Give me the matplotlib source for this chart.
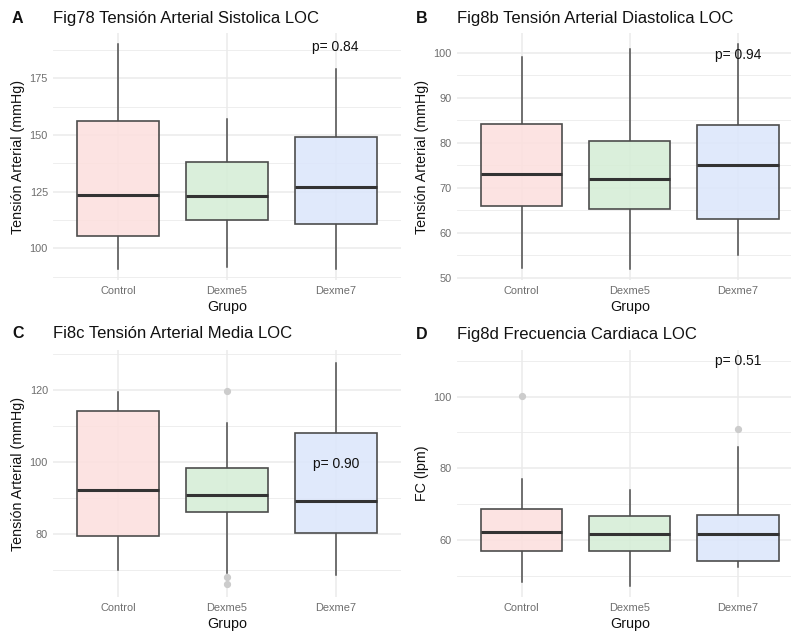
import matplotlib
matplotlib.use("Agg")
import matplotlib.pyplot as plt

plt.rcParams['font.family'] = ['Liberation Sans', 'DejaVu Sans']

groups = ["Control", "Dexme5", "Dexme7"]
fill_colors = ["#FCE0DE", "#D5EDD6", "#DCE6FB"]

# Panel A: systolic pressure
sys_whislo = [91.0, 91.8, 91.0]
sys_q1 = [105.6, 112.3, 110.7]
sys_med = [123.6, 122.9, 127.0]
sys_q3 = [156.2, 138.0, 149.3]
sys_whishi = [190.0, 157.1, 178.9]
sys_fliers = [[], [], []]

# Panel B: diastolic pressure
dia_whislo = [52.1, 52.0, 55.0]
dia_q1 = [66.0, 65.3, 63.0]
dia_med = [73.0, 72.0, 75.0]
dia_q3 = [84.2, 80.4, 83.9]
dia_whishi = [99.0, 100.8, 101.9]
dia_fliers = [[], [], []]

# Panel C: mean arterial pressure
mean_whislo = [69.8, 69.0, 68.4]
mean_q1 = [79.4, 86.1, 80.2]
mean_med = [92.1, 90.8, 89.1]
mean_q3 = [114.1, 98.2, 107.9]
mean_whishi = [119.3, 110.9, 127.6]
mean_fliers = [[], [119.7, 67.9, 66.1], []]

# Panel D: heart rate
hr_whislo = [48.3, 47.2, 52.3]
hr_q1 = [56.8, 56.8, 54.0]
hr_med = [62.2, 61.6, 61.6]
hr_q3 = [68.6, 66.7, 67.0]
hr_whishi = [77.0, 74.0, 86.0]
hr_fliers = [[100.1], [], [91.0]]

p_values = ["p= 0.84", "p= 0.94", "p= 0.90", "p= 0.51"]
p_y = [189.0, 99.6, 99.5, 109.8]

panel_letters = ["A", "B", "C", "D"]
titles = [
    "Fig78 Tensión Arterial Sistolica LOC",
    "Fig8b Tensión Arterial Diastolica LOC",
    "Fi8c Tensión Arterial Media LOC",
    "Fig8d Frecuencia Cardiaca LOC",
]
ylabels = ["Tensión Arterial (mmHg)", "Tensión Arterial (mmHg)",
           "Tensión Arterial (mmHg)", "FC (lpm)"]
xlabel = "Grupo"

ylims = [(86.0, 195.0), (49.5, 104.4), (62.4, 131.1), (44.0, 113.0)]
major_ticks = [[100, 125, 150, 175], [50, 60, 70, 80, 90, 100],
               [80, 100, 120], [60, 80, 100]]
minor_ticks = [[87.5, 112.5, 137.5, 162.5, 187.5], [55, 65, 75, 85, 95],
               [70, 90, 110, 130], [50, 70, 90, 110]]

panels = [
    (sys_whislo, sys_q1, sys_med, sys_q3, sys_whishi, sys_fliers),
    (dia_whislo, dia_q1, dia_med, dia_q3, dia_whishi, dia_fliers),
    (mean_whislo, mean_q1, mean_med, mean_q3, mean_whishi, mean_fliers),
    (hr_whislo, hr_q1, hr_med, hr_q3, hr_whishi, hr_fliers),
]

W, H = 791, 631
fig = plt.figure(figsize=(W / 100, H / 100), dpi=100)

# axes rectangles in pixels: left, top, right, bottom
rects = [(53, 33, 401, 280), (456.7, 33, 803, 280),
         (53, 350, 401, 597), (456.7, 350, 803, 597)]
label_x = [12, 416, 12, 416]
title_base = [22.7, 22.7, 338.5, 339.3]

grid_col = "#EBEBEB"

for i, (l, t, r, b) in enumerate(rects):
    ax = fig.add_axes([l / W, 1 - b / H, (r - l) / W, (b - t) / H])
    whislo, q1, med, q3, whishi, fliers = panels[i]
    stats = []
    for k in range(3):
        stats.append(dict(med=med[k], q1=q1[k], q3=q3[k], whislo=whislo[k],
                          whishi=whishi[k], fliers=fliers[k], label=groups[k]))
    bp = ax.bxp(stats, positions=[1, 2, 3], widths=0.75, showcaps=False,
                patch_artist=True, zorder=3,
                boxprops=dict(edgecolor="#4D4D4D", linewidth=1.2),
                whiskerprops=dict(color="#4D4D4D", linewidth=1.1),
                medianprops=dict(color="#333333", linewidth=2.2),
                flierprops=dict(marker="o", markersize=4.2, markerfacecolor="#CCCCCC",
                                markeredgecolor="#CCCCCC", linestyle="none"))
    for patch, c in zip(bp["boxes"], fill_colors):
        patch.set_facecolor(matplotlib.colors.to_rgba(c, 0.88))
    for wk in bp["whiskers"]:
        wk.set_zorder(2.5)

    ax.set_xlim(0.4, 3.6)
    ax.set_ylim(*ylims[i])
    ax.set_yticks(major_ticks[i])
    ax.set_yticks(minor_ticks[i], minor=True)
    ax.set_xticks([1, 2, 3])
    ax.set_xticklabels(groups)
    for s in ax.spines.values():
        s.set_visible(False)
    ax.tick_params(axis="both", which="both", length=0)
    ax.tick_params(axis="x", pad=4.5, labelsize=7.9, labelcolor="#6E6E6E")
    ax.tick_params(axis="y", pad=3.6, labelsize=7.9, labelcolor="#6E6E6E")
    ax.grid(True, which="major", axis="both", color=grid_col, linewidth=1.1, zorder=0)
    ax.grid(True, which="minor", axis="y", color=grid_col, linewidth=0.6, zorder=0)
    ax.set_axisbelow(True)

    ax.set_xlabel(xlabel, fontsize=10.3, color="#111111")
    ax.xaxis.set_label_coords(0.5, -27.0 / (b - t))
    ax.xaxis.label.set_va("center")
    ax.set_ylabel(ylabels[i], fontsize=10.3, color="#111111")
    ax.yaxis.set_label_coords(-35.0 / (r - l), 0.5)
    ax.yaxis.label.set_va("center")

    ax.text(3, p_y[i], p_values[i], ha="center", va="center", fontsize=10.0,
            color="#111111", zorder=5)

    fig.text(l / W, 1 - title_base[i] / H, titles[i], ha="left", va="baseline",
             fontsize=12.0, color="#111111")
    fig.text(label_x[i] / W, 1 - title_base[i] / H, panel_letters[i], ha="left",
             va="baseline", fontsize=11.5, fontweight="bold", color="#111111")

fig.savefig("out.png", dpi=100, facecolor="white")
